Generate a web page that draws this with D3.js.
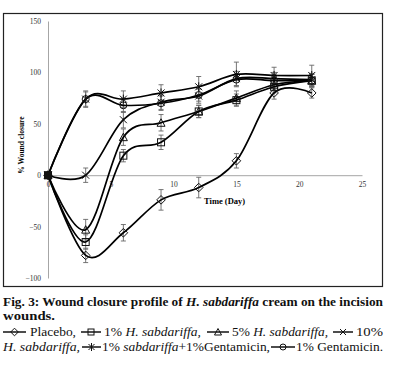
<!DOCTYPE html>
<html><head><meta charset="utf-8">
<script src="https://cdn.jsdelivr.net/npm/d3@7"></script>
<style>body{margin:0;background:#fff}svg{display:block}</style>
</head><body><svg id="c" width="396" height="370"></svg>
<script>
// ---- data ----
const days = [0, 3, 6, 9, 12, 15, 18, 21];
const xTicks = [0, 5, 10, 15, 20, 25];
const yTicks = [-100, -50, 0, 50, 100, 150];
const placebo    = [0, -78, -56, -24, -12, 14, 80, 80];
const placeboErr = [0, 7, 8, 10, 10, 7, 6, 5];
const hs1        = [0, -65, 19, 32, 62, 73, 86, 92];
const hs1Err     = [0, 7, 6, 7, 6, 6, 6, 6];
const hs5        = [0, -53, 37, 51, 62, 75, 88, 92];
const hs5Err     = [0, 10, 8, 8, 6, 7, 6, 6];
const hs10       = [0, 0, 54, 71, 77, 94, 94, 93];
const hs10Err    = [0, 7, 8, 7, 7, 7, 6, 6];
const combo      = [0, 74, 74, 80, 86, 98, 97, 97];
const comboErr   = [0, 8, 8, 8, 10, 12, 8, 10];
const gent       = [0, 74, 68, 70, 78, 93, 92, 92];
const gentErr    = [0, 7, 7, 7, 6, 6, 6, 6];

const seriesNames = ["Placebo", "1% H. sabdariffa", "5% H. sabdariffa", "10% H. sabdariffa", "1% sabdariffa+1%Gentamicin", "1% Gentamicin"];
const seriesVals = [placebo, hs1, hs5, hs10, combo, gent];
const seriesErrs = [placeboErr, hs1Err, hs5Err, hs10Err, comboErr, gentErr];
const seriesMarks = ["diamond", "square", "triangle", "x", "asterisk", "circle"];

const svg = d3.select("#c");
const x = d3.scaleLinear().domain([0, 25]).range([48, 362]);
const y = d3.scaleLinear().domain([-100, 150]).range([278, 21]);

// frame
svg.append("rect").attr("x", 3.5).attr("y", 13.5).attr("width", 379).attr("height", 273)
  .attr("fill", "none").attr("stroke", "#222").attr("stroke-width", 1.2);

const tickFont = "'Liberation Serif', serif";
// axes
const gy = svg.append("g").attr("transform", `translate(${x(0)},0)`)
  .call(d3.axisLeft(y).tickValues(yTicks).tickSize(0).tickPadding(7).tickFormat(d3.format("d")));
const gx = svg.append("g").attr("transform", `translate(0,${y(0)})`)
  .call(d3.axisBottom(x).tickValues(xTicks).tickSize(0).tickPadding(6).tickFormat(d3.format("d")));
[gx, gy].forEach(g => {
  g.select(".domain").attr("stroke", "#a6a6a6").attr("stroke-width", 1);
  g.selectAll("text").attr("font-family", tickFont).attr("font-size", 7.5).attr("fill", "#333");
});

// axis titles
svg.append("text").attr("transform", "translate(24,145) rotate(-90)")
  .attr("text-anchor", "middle").attr("font-family", tickFont).attr("font-weight", "bold")
  .attr("font-size", 7.5).text("% Wound closure");
svg.append("text").attr("x", 204).attr("y", 204).attr("font-family", tickFont)
  .attr("font-weight", "bold").attr("font-size", 8.5).text("Time (Day)");

// markers
function marker(g, type, cx, cy, s) {
  const h = s / 2;
  const st = {stroke: "#111", "stroke-width": 1, fill: "none"};
  let el;
  if (type === "diamond") el = g.append("path").attr("d", `M${cx},${cy-h-0.8}L${cx+h+0.8},${cy}L${cx},${cy+h+0.8}L${cx-h-0.8},${cy}Z`);
  else if (type === "square") el = g.append("rect").attr("x", cx-h).attr("y", cy-h).attr("width", s).attr("height", s);
  else if (type === "triangle") el = g.append("path").attr("d", `M${cx},${cy-h-0.5}L${cx+h+0.5},${cy+h}L${cx-h-0.5},${cy+h}Z`);
  else if (type === "circle") el = g.append("circle").attr("cx", cx).attr("cy", cy).attr("r", h);
  else if (type === "x") el = g.append("path").attr("d", `M${cx-h},${cy-h}L${cx+h},${cy+h}M${cx-h},${cy+h}L${cx+h},${cy-h}`);
  else if (type === "asterisk") el = g.append("path").attr("d", `M${cx-h},${cy-h}L${cx+h},${cy+h}M${cx-h},${cy+h}L${cx+h},${cy-h}M${cx},${cy-h-1}L${cx},${cy+h+1}`);
  Object.entries(st).forEach(([k, v]) => el.attr(k, v));
}

const plot = svg.append("g");
const line = d3.line().x(d => x(d[0])).y(d => y(d[1])).curve(d3.curveCardinal.tension(0));

// error bars
seriesVals.forEach((vals, i) => {
  const errs = seriesErrs[i];
  days.forEach((d, j) => {
    if (!errs[j]) return;
    const cx = x(d), y1 = y(vals[j] + errs[j]), y2 = y(vals[j] - errs[j]);
    plot.append("path").attr("d", `M${cx},${y1}L${cx},${y2}M${cx-2.5},${y1}L${cx+2.5},${y1}M${cx-2.5},${y2}L${cx+2.5},${y2}`)
      .attr("stroke", "#666").attr("stroke-width", 0.9).attr("fill", "none");
  });
});
// lines
seriesVals.forEach((vals, i) => {
  plot.append("path").datum(days.map((d, j) => [d, vals[j]])).attr("d", line)
    .attr("fill", "none").attr("stroke", "#000").attr("stroke-width", 1.7);
});
// markers
seriesVals.forEach((vals, i) => {
  days.forEach((d, j) => marker(plot, seriesMarks[i], x(d), y(vals[j]), 7));
});
// day 0 overlapping markers look filled
plot.append("rect").attr("x", x(0)-3.5).attr("y", y(0)-3.5).attr("width", 7).attr("height", 7).attr("fill", "#111");

// caption
const capFont = "'Liberation Serif', 'DejaVu Serif', serif";
function textLine(yb, parts, size, weight, width, x0) {
  const t = svg.append("text").attr("x", x0).attr("y", yb).attr("font-family", capFont)
    .attr("font-size", size).attr("font-weight", weight).attr("fill", "#111");
  parts.forEach(p => t.append("tspan").attr("font-style", p[1] ? "italic" : "normal").text(p[0]));
  if (width) t.attr("textLength", width).attr("lengthAdjust", "spacingAndGlyphs");
  return t;
}
textLine(306, [["Fig. 3: Wound closure profile of ", 0], ["H. sabdariffa", 1], [" cream on the incision", 0]], 13, "bold", 380, 3);
textLine(320, [["wounds.", 0]], 13, "bold", 52, 3);

// legend lines (layout positions)
const legendRows = [
  {y: 336, items: [
    {sym: 0, x: 3, w: 23}, {txt: [["Placebo,", 0]], x: 30, w: 46},
    {sym: 1, x: 81, w: 20}, {txt: [["1% ", 0], ["H. sabdariffa,", 1]], x: 104, w: 97},
    {sym: 2, x: 207, w: 22}, {txt: [["5% ", 0], ["H. sabdariffa,", 1]], x: 232, w: 96},
    {sym: 3, x: 333, w: 20}, {txt: [["10%", 0]], x: 356, w: 27}]},
  {y: 351, items: [
    {txt: [["H. sabdariffa,", 1]], x: 3, w: 77},
    {sym: 4, x: 82, w: 19}, {txt: [["1% ", 0], ["sabdariffa", 1], ["+1%Gentamicin,", 0]], x: 102, w: 168},
    {sym: 5, x: 271, w: 24}, {txt: [["1% Gentamicin.", 0]], x: 296, w: 87}]}
];
legendRows.forEach(row => {
  row.items.forEach(it => {
    if (it.sym !== undefined) {
      const cy = row.y - 4;
      svg.append("line").attr("x1", it.x).attr("x2", it.x + it.w).attr("y1", cy).attr("y2", cy)
        .attr("stroke", "#000").attr("stroke-width", 1.4);
      marker(svg, seriesMarks[it.sym], it.x + it.w / 2, cy, 6);
    } else {
      textLine(row.y, it.txt, 12, "normal", it.w, it.x);
    }
  });
});
</script></body></html>
